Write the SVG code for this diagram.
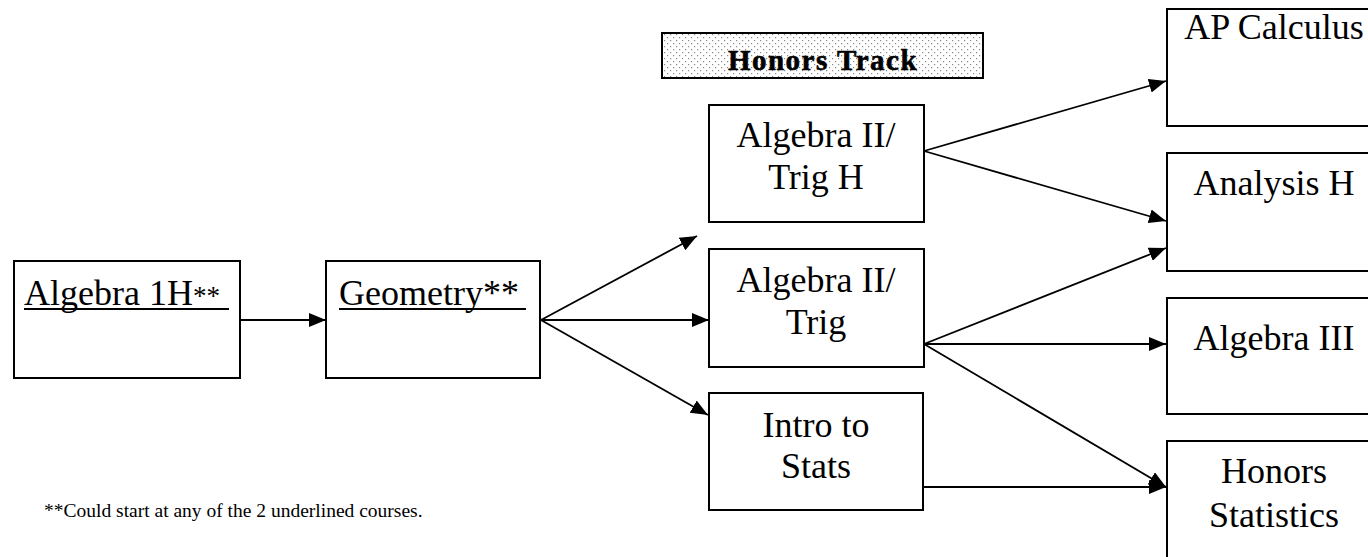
<svg xmlns="http://www.w3.org/2000/svg" width="1368" height="557" viewBox="0 0 1368 557">
<style>
.box{fill:#fff;stroke:#000;stroke-width:2}
.t{font-family:"Liberation Serif","Times New Roman",serif;font-size:36px;fill:#000}
.c{text-anchor:middle}
.ln{stroke:#000;stroke-width:1.8;fill:none;marker-end:url(#ah)}
.ul{stroke:#000;stroke-width:2}
</style>
<defs>
<marker id="ah" markerUnits="userSpaceOnUse" markerWidth="18" markerHeight="14" refX="17" refY="7" orient="auto">
<path d="M0,0 L17,7 L0,14 Z" fill="#000"/>
</marker>
<pattern id="dots" width="6" height="6" patternUnits="userSpaceOnUse">
<rect width="6" height="6" fill="#fff"/>
<rect x="1" y="1" width="1.2" height="1.2" fill="#888"/>
<rect x="4" y="4" width="1.2" height="1.2" fill="#888"/>
</pattern>
</defs>
<rect width="1368" height="557" fill="#fff"/>

<g id="connectors">
<line class="ln" x1="240" y1="320" x2="326" y2="320"/>
<line class="ln" x1="541" y1="320" x2="697" y2="236"/>
<line class="ln" x1="541" y1="320" x2="709" y2="320"/>
<line class="ln" x1="541" y1="320" x2="708" y2="415"/>
<line class="ln" x1="924" y1="151" x2="1166" y2="81"/>
<line class="ln" x1="924" y1="151" x2="1166" y2="221"/>
<line class="ln" x1="924" y1="344" x2="1166" y2="248"/>
<line class="ln" x1="924" y1="344" x2="1166" y2="344"/>
<line class="ln" x1="924" y1="344" x2="1166" y2="487"/>
<line class="ln" x1="923" y1="487" x2="1166" y2="487"/>
</g>

<g id="honors-track">
<rect x="662" y="33" width="321" height="45" fill="url(#dots)" stroke="#000" stroke-width="2"/>
<text x="823" y="70" class="c" style="font-family:'Liberation Serif','Times New Roman',serif;font-size:29px;font-weight:bold;letter-spacing:1.5px;stroke:#000;stroke-width:0.6">Honors Track</text>
</g>

<g id="algebra1h">
<rect class="box" x="14" y="261" width="226" height="117"/>
<text class="t" x="24" y="305">Algebra 1H<tspan style="font-size:27px">**</tspan></text>
<line class="ul" x1="24" y1="309" x2="229" y2="309"/>
</g>

<g id="geometry">
<rect class="box" x="326" y="261" width="214" height="117"/>
<text class="t" x="339" y="305">Geometry**</text>
<line class="ul" x1="339" y1="309" x2="526" y2="309"/>
</g>

<g id="alg2trigh">
<rect class="box" x="709" y="105" width="215" height="117"/>
<text class="t c" x="816" y="147">Algebra II/</text>
<text class="t c" x="816" y="189">Trig H</text>
</g>

<g id="alg2trig">
<rect class="box" x="709" y="249" width="215" height="118"/>
<text class="t c" x="816" y="292">Algebra II/</text>
<text class="t c" x="816" y="334">Trig</text>
</g>

<g id="introstats">
<rect class="box" x="709" y="393" width="214" height="117"/>
<text class="t c" x="816" y="437">Intro to</text>
<text class="t c" x="816" y="478">Stats</text>
</g>

<g id="apcalc">
<rect class="box" x="1167" y="9" width="214" height="117"/>
<text class="t c" x="1274" y="39">AP Calculus</text>
</g>

<g id="analysish">
<rect class="box" x="1167" y="153" width="214" height="118"/>
<text class="t c" x="1274" y="195">Analysis H</text>
</g>

<g id="algebra3">
<rect class="box" x="1167" y="298" width="214" height="116"/>
<text class="t c" x="1274" y="350">Algebra III</text>
</g>

<g id="honorsstats">
<rect class="box" x="1167" y="441" width="214" height="130"/>
<text class="t c" x="1274" y="483">Honors</text>
<text class="t c" x="1274" y="527">Statistics</text>
</g>

<g id="footnote">
<text x="44" y="517" style="font-family:'Liberation Serif','Times New Roman',serif;font-size:19.5px">**Could start at any of the 2 underlined courses.</text>
</g>
</svg>
